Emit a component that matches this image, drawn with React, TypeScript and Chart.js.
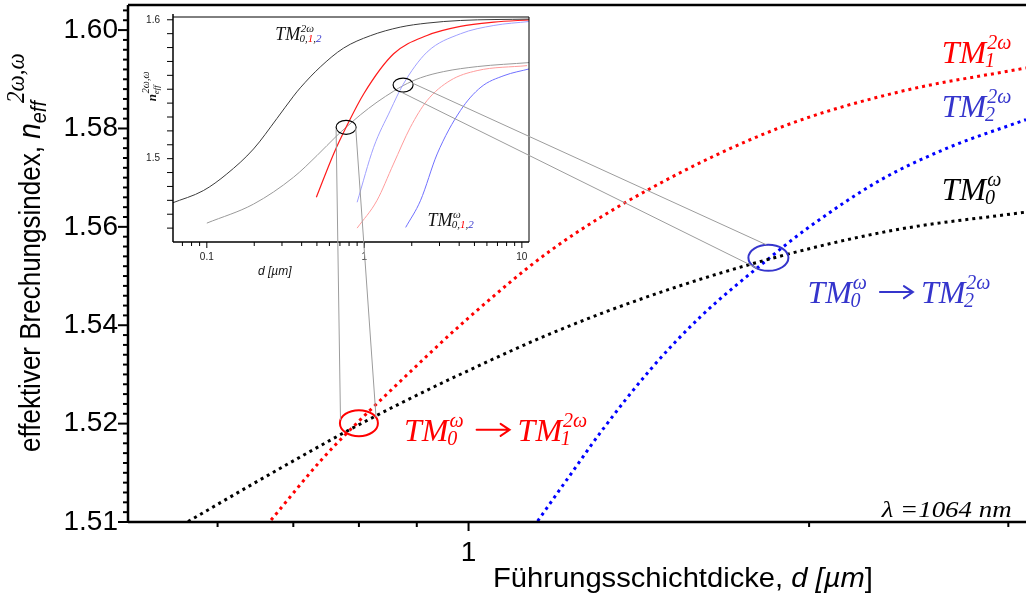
import React, { useEffect, useRef } from 'react';
import { Chart, registerables } from 'chart.js';

Chart.register(...registerables);

const SANS = '"Liberation Sans", Arial, Helvetica, sans-serif';
const SERIF = '"Liberation Serif", "Times New Roman", Times, serif';

// ---------- main plot: effective index vs. guiding-layer thickness ----------
const X_MIN = 0.5;
const X_MAX = 3.11;
const Y_MIN = 1.5;
const Y_MAX = 1.6051;
const X_TICKS = [0.6, 0.7, 0.8, 0.9, 1, 2, 3];
const X_LABELS = [1];
const Y_TICK_STEP = 0.002;
// labelled ticks on the index axis and the text printed at each of them
const Y_LABEL_AT = [1.5, 1.52, 1.54, 1.56, 1.58, 1.6];
const Y_LABEL_TEXT = ['1.51', '1.52', '1.54', '1.56', '1.58', '1.60'];

// TM0 at the fundamental (omega)
const D_TM0_W = [0.565, 0.642, 0.711, 0.784, 0.872, 1.0, 1.182, 1.448, 1.841, 2.374, 3.11];
const N_TM0_W = [1.5001, 1.5075, 1.5133, 1.5187, 1.5242, 1.5308, 1.5383, 1.546, 1.5534, 1.5593, 1.563];
// TM1 at the second harmonic (2 omega)
const D_TM1_2W = [0.669, 0.741, 0.784, 0.854, 1.0, 1.182, 1.448, 1.886, 2.408, 3.11];
const N_TM1_2W = [1.5004, 1.5126, 1.5185, 1.5268, 1.5415, 1.5552, 1.5678, 1.5802, 1.5875, 1.5923];
// TM2 at the second harmonic (2 omega)
const D_TM2_2W = [1.151, 1.239, 1.309, 1.448, 1.603, 1.841, 1.993, 2.312, 2.649, 3.11];
const N_TM2_2W = [1.5002, 1.5106, 1.5183, 1.531, 1.5417, 1.5535, 1.5597, 1.5695, 1.576, 1.5818];

// phase-matching points (d, n)
const PM_TM1 = { d: 0.8, n: 1.5201 };
const PM_TM2 = { d: 1.841, n: 1.5537 };

// ---------- inset: full range of the modes ----------
const IN_X_MIN = 0.061;
const IN_X_MAX = 11.1;
const IN_Y_MIN = 1.44;
const IN_Y_MAX = 1.602;
const IN_X_TICKS = [0.07, 0.08, 0.09, 0.1, 0.2, 0.3, 0.4, 0.5, 0.6, 0.7, 0.8, 0.9, 1, 2, 3, 4, 5, 6, 7, 8, 9, 10];
const IN_X_LABELS = [0.1, 1, 10];
const IN_Y_TICKS = [1.45, 1.46, 1.47, 1.48, 1.49, 1.5, 1.51, 1.52, 1.53, 1.54, 1.55, 1.56, 1.57, 1.58, 1.59, 1.6];
const IN_Y_LABELS = [1.5, 1.6];

const IN_D_TM0_2W = [0.06, 0.095, 0.134, 0.198, 0.279, 0.355, 0.392, 0.525, 0.738, 1.09, 1.69, 2.5, 4.07, 11.2];
const IN_N_TM0_2W = [1.468, 1.477, 1.489, 1.507, 1.529, 1.545, 1.551, 1.566, 1.5796, 1.5885, 1.5947, 1.5976, 1.5995, 1.6005];
const IN_D_TM1_2W = [0.496, 0.638, 0.766, 0.99, 1.535, 2.5, 4.07, 6.64, 11.2];
const IN_N_TM1_2W = [1.4722, 1.5034, 1.5226, 1.5466, 1.5755, 1.5887, 1.5952, 1.5983, 1.6];
const IN_D_TM2_2W = [0.9, 1.146, 1.46, 1.76, 2.5, 4.07, 6.64, 11.2];
const IN_N_TM2_2W = [1.4686, 1.5082, 1.5346, 1.5533, 1.5767, 1.5899, 1.5959, 1.5988];
const IN_D_TM0_W = [0.1, 0.198, 0.355, 0.5, 0.67, 0.766, 0.943, 1.204, 1.536, 1.762, 2.27, 3.19, 5.21, 11.2];
const IN_N_TM0_W = [1.4536, 1.4673, 1.4866, 1.5022, 1.5166, 1.5226, 1.5315, 1.5407, 1.5486, 1.5526, 1.5582, 1.5627, 1.5663, 1.5692];
const IN_D_TM1_W = [0.9, 1.2, 1.53, 1.96, 2.5, 3.5, 5.2, 10.8];
const IN_N_TM1_W = [1.45, 1.4697, 1.4961, 1.5226, 1.5418, 1.5562, 1.5634, 1.567];
const IN_D_TM2_W = [1.83, 2.27, 2.9, 4.07, 5.5, 7.7, 11.2];
const IN_N_TM2_W = [1.4505, 1.4697, 1.5034, 1.5346, 1.5515, 1.5598, 1.5647];

const IN_PM_TM1 = { d: 0.766, n: 1.5226 };
const IN_PM_TM2 = { d: 1.762, n: 1.553 };

type Seg = { t: string; c?: string };

const pairs = (xs: number[], ys: number[]) => xs.map((x, i) => ({ x, y: ys[i] }));
const has = (list: number[], v: number) => list.some((u) => Math.abs(u - v) < 1e-6);
const idxOf = (list: number[], v: number) => list.findIndex((u) => Math.abs(u - v) < 1e-6);

function drawSegs(ctx: CanvasRenderingContext2D, segs: Seg[], x: number, y: number, color: string) {
  let cx = x;
  for (const s of segs) {
    ctx.fillStyle = s.c || color;
    ctx.fillText(s.t, cx, y);
    cx += ctx.measureText(s.t).width;
  }
  return cx;
}

// "TM" with stacked subscript / superscript
function drawTM(
  ctx: CanvasRenderingContext2D,
  x: number,
  y: number,
  size: number,
  color: string,
  sub: Seg[],
  sup: Seg[]
) {
  ctx.textAlign = 'left';
  ctx.textBaseline = 'alphabetic';
  ctx.font = `italic ${size}px ${SERIF}`;
  ctx.fillStyle = color;
  ctx.fillText('TM', x, y);
  const x1 = x + ctx.measureText('TM').width;
  const small = Math.round(size * 0.62);
  ctx.font = `italic ${small}px ${SERIF}`;
  const e1 = drawSegs(ctx, sub, x1 - size * 0.04, y + size * 0.12, color);
  const e2 = drawSegs(ctx, sup, x1 + size * 0.03, y - size * 0.44, color);
  return Math.max(e1, e2);
}

function drawArrow(ctx: CanvasRenderingContext2D, x: number, y: number, len: number, color: string) {
  ctx.save();
  ctx.strokeStyle = color;
  ctx.lineWidth = 2;
  ctx.lineCap = 'round';
  ctx.beginPath();
  ctx.moveTo(x, y);
  ctx.lineTo(x + len, y);
  ctx.moveTo(x + len - 9, y - 6);
  ctx.lineTo(x + len, y);
  ctx.lineTo(x + len - 9, y + 6);
  ctx.stroke();
  ctx.restore();
}

function drawTransition(ctx: CanvasRenderingContext2D, x: number, y: number, color: string, target: string) {
  const size = 32;
  let cx = drawTM(ctx, x, y, size, color, [{ t: '0' }], [{ t: 'ω' }]);
  cx += 13;
  drawArrow(ctx, cx, y - 11, 33, color);
  cx += 33 + 8;
  drawTM(ctx, cx, y, size, color, [{ t: target }], [{ t: '2ω' }]);
}

function line(ctx: CanvasRenderingContext2D, x1: number, y1: number, x2: number, y2: number) {
  ctx.beginPath();
  ctx.moveTo(x1, y1);
  ctx.lineTo(x2, y2);
  ctx.stroke();
}

function ellipse(ctx: CanvasRenderingContext2D, cx: number, cy: number, rx: number, ry: number) {
  ctx.beginPath();
  ctx.ellipse(cx, cy, rx, ry, 0, 0, Math.PI * 2);
  ctx.stroke();
}

const INSET_RX = 10;
const INSET_RY = 7;
const MAIN_RX = 19;
const MAIN_RY = 13;
const RED = '#ff0000';
const BLUE = '#0000ff';
const LABEL_BLUE = '#3535cc';

function insetConfig(): any {
  const solid = (xs: number[], ys: number[], color: string, w = 1) => ({
    data: pairs(xs, ys),
    borderColor: color,
    borderWidth: w,
    pointRadius: 0,
    fill: false,
    cubicInterpolationMode: 'monotone',
  });
  const decor = {
    id: 'insetDecor',
    afterDraw(chart: any) {
      const { ctx, chartArea: a, scales } = chart;
      const x = scales.x;
      const y = scales.y;
      ctx.save();
      // frame
      ctx.strokeStyle = '#000';
      ctx.lineWidth = 1;
      line(ctx, a.left, a.top, a.right, a.top);
      line(ctx, a.right, a.top, a.right, a.bottom);
      ctx.lineWidth = 1.5;
      line(ctx, a.left, a.top - 3, a.left, a.bottom);
      line(ctx, a.left, a.bottom, a.right, a.bottom);
      // tick marks
      ctx.lineWidth = 1;
      for (const t of x.ticks) {
        const px = x.getPixelForValue(t.value);
        const len = has(IN_X_LABELS, t.value) ? 6 : 4;
        line(ctx, px, a.bottom, px, a.bottom + len);
      }
      for (const t of y.ticks) {
        const py = y.getPixelForValue(t.value);
        line(ctx, a.left - 6, py, a.left, py);
      }
      // phase-matching markers
      ctx.lineWidth = 1.2;
      ellipse(ctx, x.getPixelForValue(IN_PM_TM1.d), y.getPixelForValue(IN_PM_TM1.n), INSET_RX, INSET_RY);
      ellipse(ctx, x.getPixelForValue(IN_PM_TM2.d), y.getPixelForValue(IN_PM_TM2.n), INSET_RX, INSET_RY);
      // mode labels
      const subs: Seg[] = [{ t: '0' }, { t: ',' }, { t: '1', c: RED }, { t: ',' }, { t: '2', c: LABEL_BLUE }];
      drawTM(ctx, x.getPixelForValue(0.272), y.getPixelForValue(1.5856), 18, '#111', subs, [{ t: '2ω' }]);
      drawTM(ctx, x.getPixelForValue(2.515), y.getPixelForValue(1.4515), 18, '#111', subs, [{ t: 'ω' }]);
      // x title
      ctx.font = `italic 12px ${SANS}`;
      ctx.fillStyle = '#111';
      ctx.textAlign = 'center';
      ctx.fillText('d [µm]', x.getPixelForValue(0.27), a.bottom + 33);
      // y title (rotated)
      ctx.save();
      ctx.translate(a.left - 17, y.getPixelForValue(1.552));
      ctx.rotate(-Math.PI / 2);
      ctx.textAlign = 'left';
      ctx.font = `italic bold 13px ${SERIF}`;
      const wn = ctx.measureText('n').width;
      ctx.font = `italic 10px ${SERIF}`;
      const ws = ctx.measureText('2ω,ω').width;
      let cx = -(wn + ws + 1) / 2;
      ctx.font = `italic bold 13px ${SERIF}`;
      ctx.fillStyle = '#111';
      ctx.fillText('n', cx, 0);
      cx += wn;
      ctx.font = `italic 9px ${SERIF}`;
      ctx.fillText('eff', cx, 3);
      ctx.font = `italic 10px ${SERIF}`;
      ctx.fillText('2ω,ω', cx + 1, -7);
      ctx.restore();
      ctx.restore();
    },
  };
  return {
    type: 'line',
    data: {
      datasets: [
        solid(IN_D_TM0_2W, IN_N_TM0_2W, '#3c3c3c'),
        solid(IN_D_TM1_2W, IN_N_TM1_2W, '#ff1a1a', 1.2),
        solid(IN_D_TM2_2W, IN_N_TM2_2W, '#a0a0ff'),
        solid(IN_D_TM0_W, IN_N_TM0_W, '#9a9a9a'),
        solid(IN_D_TM1_W, IN_N_TM1_W, '#ff9c9c'),
        solid(IN_D_TM2_W, IN_N_TM2_W, '#7070ff'),
      ],
    },
    options: {
      animation: false,
      responsive: false,
      events: [],
      layout: { padding: { left: 133, top: 17, right: 497, bottom: 312 } },
      plugins: { legend: { display: false }, tooltip: { enabled: false } },
      scales: {
        x: {
          type: 'logarithmic',
          min: IN_X_MIN,
          max: IN_X_MAX,
          afterFit: (s: any) => {
            s.height = 40;
            s.paddingLeft = 0;
            s.paddingRight = 0;
          },
          afterBuildTicks: (s: any) => {
            s.ticks = IN_X_TICKS.map((v) => ({ value: v }));
          },
          grid: { display: false, drawTicks: false, tickLength: 0 },
          border: { display: false },
          ticks: {
            autoSkip: false,
            maxRotation: 0,
            padding: 9,
            color: '#222',
            font: { family: SANS, size: 10 },
            callback: (v: any) => (has(IN_X_LABELS, +v) ? String(+v) : ''),
          },
        },
        y: {
          type: 'linear',
          min: IN_Y_MIN,
          max: IN_Y_MAX,
          afterFit: (s: any) => {
            s.width = 40;
            s.paddingTop = 0;
            s.paddingBottom = 0;
          },
          afterBuildTicks: (s: any) => {
            s.ticks = IN_Y_TICKS.map((v) => ({ value: v }));
          },
          grid: { display: false, drawTicks: false, tickLength: 0 },
          border: { display: false },
          ticks: {
            autoSkip: false,
            padding: 13,
            color: '#222',
            font: { family: SANS, size: 10 },
            callback: (v: any) => (has(IN_Y_LABELS, +v) ? (+v).toFixed(1) : ''),
          },
        },
      },
    },
    plugins: [decor],
  };
}

function mainConfig(inset: Chart): any {
  const dotted = (xs: number[], ys: number[], color: string) => ({
    data: pairs(xs, ys),
    borderColor: color,
    borderWidth: 3,
    borderDash: [3, 4],
    pointRadius: 0,
    fill: false,
    cubicInterpolationMode: 'monotone',
  });
  const decor = {
    id: 'mainDecor',
    afterDraw(chart: any) {
      const { ctx, chartArea: a, scales } = chart;
      const x = scales.x;
      const y = scales.y;
      ctx.save();
      // axes and top frame
      ctx.strokeStyle = '#000';
      ctx.lineWidth = 2.5;
      line(ctx, a.left, a.top, a.right, a.top);
      line(ctx, a.left, a.top, a.left, a.bottom);
      line(ctx, a.left, a.bottom, a.right, a.bottom);
      ctx.lineWidth = 2;
      for (const t of x.ticks) {
        const px = x.getPixelForValue(t.value);
        const len = has(X_LABELS, t.value) ? 9 : 5;
        line(ctx, px, a.bottom, px, a.bottom + len);
      }
      for (const t of y.ticks) {
        const py = y.getPixelForValue(t.value);
        const len = has(Y_LABEL_AT, t.value) ? 10 : 5;
        line(ctx, a.left - len, py, a.left, py);
      }

      // phase-matching markers
      const r1 = { x: x.getPixelForValue(PM_TM1.d), y: y.getPixelForValue(PM_TM1.n) };
      const r2 = { x: x.getPixelForValue(PM_TM2.d), y: y.getPixelForValue(PM_TM2.n) };
      ctx.lineWidth = 2;
      ctx.strokeStyle = RED;
      ellipse(ctx, r1.x, r1.y, MAIN_RX, MAIN_RY);
      ctx.strokeStyle = LABEL_BLUE;
      ellipse(ctx, r2.x, r2.y, MAIN_RX + 1, MAIN_RY);

      // connectors from the inset markers
      const ix = (inset as any).scales.x;
      const iy = (inset as any).scales.y;
      const i1 = { x: ix.getPixelForValue(IN_PM_TM1.d), y: iy.getPixelForValue(IN_PM_TM1.n) };
      const i2 = { x: ix.getPixelForValue(IN_PM_TM2.d), y: iy.getPixelForValue(IN_PM_TM2.n) };
      ctx.strokeStyle = '#9c9c9c';
      ctx.lineWidth = 1;
      line(ctx, i1.x - INSET_RX, i1.y + 2, r1.x - MAIN_RX * 0.97, r1.y - MAIN_RY * 0.25);
      line(ctx, i1.x + INSET_RX * 0.95, i1.y - 1, r1.x + MAIN_RX * 0.9, r1.y - MAIN_RY * 0.45);
      line(ctx, i2.x + INSET_RX * 0.9, i2.y - INSET_RY * 0.3, r2.x - MAIN_RX * 0.1, r2.y - MAIN_RY);
      line(ctx, i2.x - INSET_RX * 0.2, i2.y + INSET_RY, r2.x - MAIN_RX * 0.6, r2.y + MAIN_RY * 0.8);

      // curve labels
      drawTM(ctx, x.getPixelForValue(2.62), y.getPixelForValue(1.5933), 32, RED, [{ t: '1' }], [{ t: '2ω' }]);
      drawTM(ctx, x.getPixelForValue(2.62), y.getPixelForValue(1.5823), 32, LABEL_BLUE, [{ t: '2' }], [{ t: '2ω' }]);
      drawTM(ctx, x.getPixelForValue(2.62), y.getPixelForValue(1.5654), 32, '#000', [{ t: '0' }], [{ t: 'ω' }]);
      drawTransition(ctx, x.getPixelForValue(0.877), y.getPixelForValue(1.5165), RED, '1');
      drawTransition(ctx, x.getPixelForValue(1.993), y.getPixelForValue(1.5445), LABEL_BLUE, '2');

      // wavelength note
      ctx.save();
      ctx.translate(x.getPixelForValue(3.02), y.getPixelForValue(1.501));
      ctx.scale(1.12, 1);
      ctx.font = `italic 24px ${SERIF}`;
      ctx.fillStyle = '#000';
      ctx.textAlign = 'right';
      ctx.fillText('λ =1064 nm', 0, 0);
      ctx.restore();

      // x title
      ctx.save();
      ctx.translate(493, 587);
      ctx.scale(1.08, 1);
      ctx.textAlign = 'left';
      ctx.fillStyle = '#000';
      ctx.font = `27px ${SANS}`;
      let tx = 0;
      const t1 = 'Führungsschichtdicke, ';
      ctx.fillText(t1, tx, 0);
      tx += ctx.measureText(t1).width;
      ctx.font = `italic 27px ${SANS}`;
      ctx.fillText('d [µm', tx, 0);
      tx += ctx.measureText('d [µm').width;
      ctx.font = `27px ${SANS}`;
      ctx.fillText(']', tx, 0);
      ctx.restore();

      // y title (rotated)
      ctx.save();
      ctx.translate(40, 452);
      ctx.rotate(-Math.PI / 2);
      ctx.scale(1, 1.1);
      ctx.fillStyle = '#000';
      ctx.textAlign = 'left';
      ctx.font = `26px ${SANS}`;
      const t2 = 'effektiver Brechungsindex, ';
      ctx.fillText(t2, 0, 0);
      let cx = ctx.measureText(t2).width;
      ctx.font = `italic 28px ${SANS}`;
      ctx.fillText('n', cx, 0);
      cx += ctx.measureText('n').width;
      ctx.font = `italic 20px ${SANS}`;
      ctx.fillText('eff', cx, 5);
      cx += ctx.measureText('eff').width;
      ctx.font = `italic 23px ${SERIF}`;
      ctx.fillText('2ω,ω', cx - 2, -15);
      ctx.restore();

      ctx.restore();
    },
  };
  return {
    type: 'line',
    data: {
      datasets: [
        dotted(D_TM0_W, N_TM0_W, '#000'),
        dotted(D_TM1_2W, N_TM1_2W, RED),
        dotted(D_TM2_2W, N_TM2_2W, BLUE),
      ],
    },
    options: {
      animation: false,
      responsive: false,
      events: [],
      layout: { padding: { left: 0, top: 5, right: 0, bottom: 0 } },
      plugins: { legend: { display: false }, tooltip: { enabled: false } },
      scales: {
        x: {
          type: 'logarithmic',
          min: X_MIN,
          max: X_MAX,
          afterFit: (s: any) => {
            s.height = 72;
            s.paddingLeft = 0;
            s.paddingRight = 0;
          },
          afterBuildTicks: (s: any) => {
            s.ticks = X_TICKS.map((v) => ({ value: v }));
          },
          grid: { display: false, drawTicks: false, tickLength: 0 },
          border: { display: false },
          ticks: {
            autoSkip: false,
            maxRotation: 0,
            padding: 14,
            color: '#000',
            font: { family: SANS, size: 28 },
            callback: (v: any) => (has(X_LABELS, +v) ? String(+v) : ''),
          },
        },
        y: {
          type: 'linear',
          min: Y_MIN,
          max: Y_MAX,
          afterFit: (s: any) => {
            s.width = 128;
            s.paddingTop = 0;
            s.paddingBottom = 0;
          },
          afterBuildTicks: (s: any) => {
            const t: { value: number }[] = [];
            for (let v = Y_MIN; v <= Y_MAX + 1e-9; v += Y_TICK_STEP) t.push({ value: +v.toFixed(4) });
            s.ticks = t;
          },
          grid: { display: false, drawTicks: false, tickLength: 0 },
          border: { display: false },
          ticks: {
            autoSkip: false,
            padding: 10,
            color: '#000',
            font: { family: SANS, size: 28 },
            callback: (v: any) => {
              const i = idxOf(Y_LABEL_AT, +v);
              return i >= 0 ? Y_LABEL_TEXT[i] : '';
            },
          },
        },
      },
    },
    plugins: [decor],
  };
}

export default function App() {
  const mainRef = useRef<HTMLCanvasElement>(null);
  const insetRef = useRef<HTMLCanvasElement>(null);

  useEffect(() => {
    const inset = new Chart(insetRef.current as HTMLCanvasElement, insetConfig());
    const main = new Chart(mainRef.current as HTMLCanvasElement, mainConfig(inset));
    return () => {
      main.destroy();
      inset.destroy();
    };
  }, []);

  return (
    <div style={{ position: 'fixed', left: 0, top: 0, width: 1026, height: 594, background: '#fff' }}>
      <canvas ref={insetRef} width={1026} height={594} style={{ position: 'absolute', left: 0, top: 0 }} />
      <canvas ref={mainRef} width={1026} height={594} style={{ position: 'absolute', left: 0, top: 0 }} />
    </div>
  );
}
